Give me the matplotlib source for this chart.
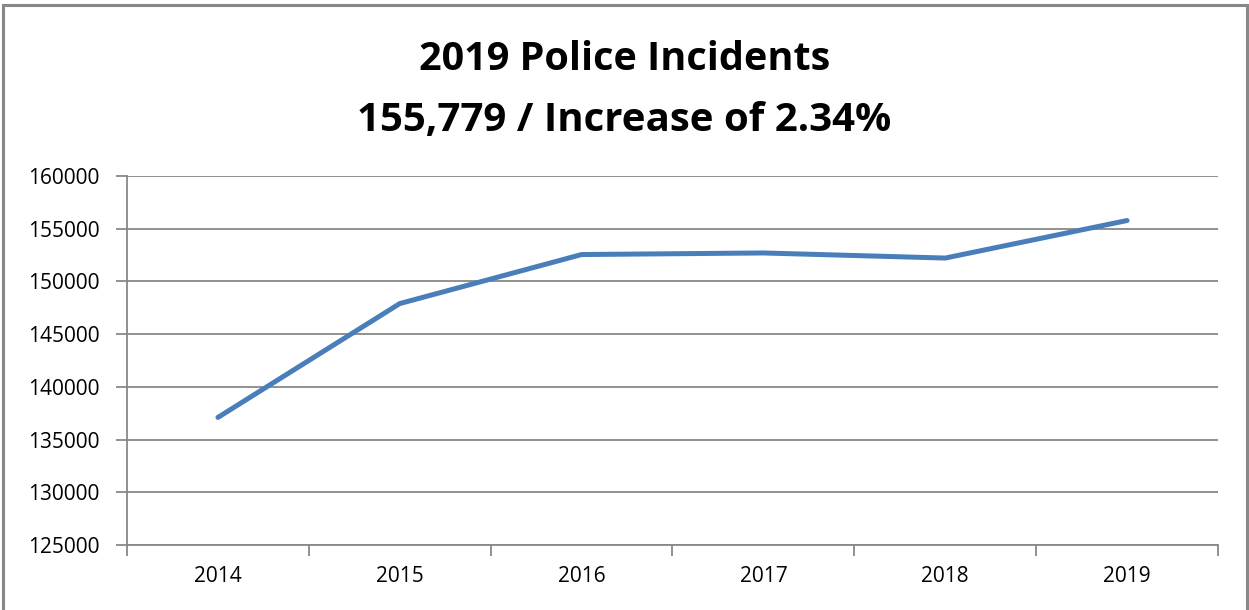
import matplotlib.pyplot as plt
import numpy as np

years = ['2014', '2015', '2016', '2017', '2018', '2019']
incidents = [137100, 147900, 152550, 152700, 152217, 155779]
y_ticks = [125000, 130000, 135000, 140000, 145000, 150000, 155000, 160000]

plt.rcParams['font.family'] = ['Open Sans', 'DejaVu Sans']

fig = plt.figure(figsize=(12.49, 6.10), dpi=100)
ax = fig.add_axes([127 / 1249, 1 - 545 / 610, (1218 - 127) / 1249, (545 - 176) / 610])

x = np.arange(len(years))
ax.plot(x, incidents, color='#4A7EBB', linewidth=3.6, solid_capstyle='round')

ax.set_xlim(-0.5, len(years) - 0.5)
ax.set_ylim(y_ticks[0], y_ticks[-1])
ax.set_yticks(y_ticks)
ax.set_yticklabels([str(v) for v in y_ticks])
ax.set_xticks(x)
ax.set_xticklabels(years)
ax.set_xticks(np.arange(len(years) + 1) - 0.5, minor=True)

grid_c = '#888888'
ax.grid(axis='y', color=grid_c, linewidth=1.3)
ax.set_axisbelow(True)
for s in ['top', 'right']:
    ax.spines[s].set_visible(False)
for s in ['left', 'bottom']:
    ax.spines[s].set_color(grid_c)
    ax.spines[s].set_linewidth(1.3)

ax.tick_params(axis='x', which='major', length=0, pad=15, labelsize=15)
ax.tick_params(axis='x', which='minor', length=8, width=1.3, color=grid_c)
ax.tick_params(axis='y', length=8, width=1.3, color=grid_c, pad=12, labelsize=15)

fig.text(0.5, 1 - 60 / 610, '2019 Police Incidents', ha='center', va='center',
         fontsize=28.5, fontweight='bold')
fig.text(0.5, 1 - 120 / 610, '155,779 / Increase of 2.34%', ha='center', va='center',
         fontsize=29, fontweight='bold')

# outer chart border
border = plt.Rectangle((3 / 1249, -0.01), 1244 / 1249, 1 - 5 / 610 + 0.01,
                       transform=fig.transFigure, fill=False,
                       edgecolor='#888888', linewidth=2.2)
fig.patches.append(border)

fig.savefig('out.png', dpi=100)
